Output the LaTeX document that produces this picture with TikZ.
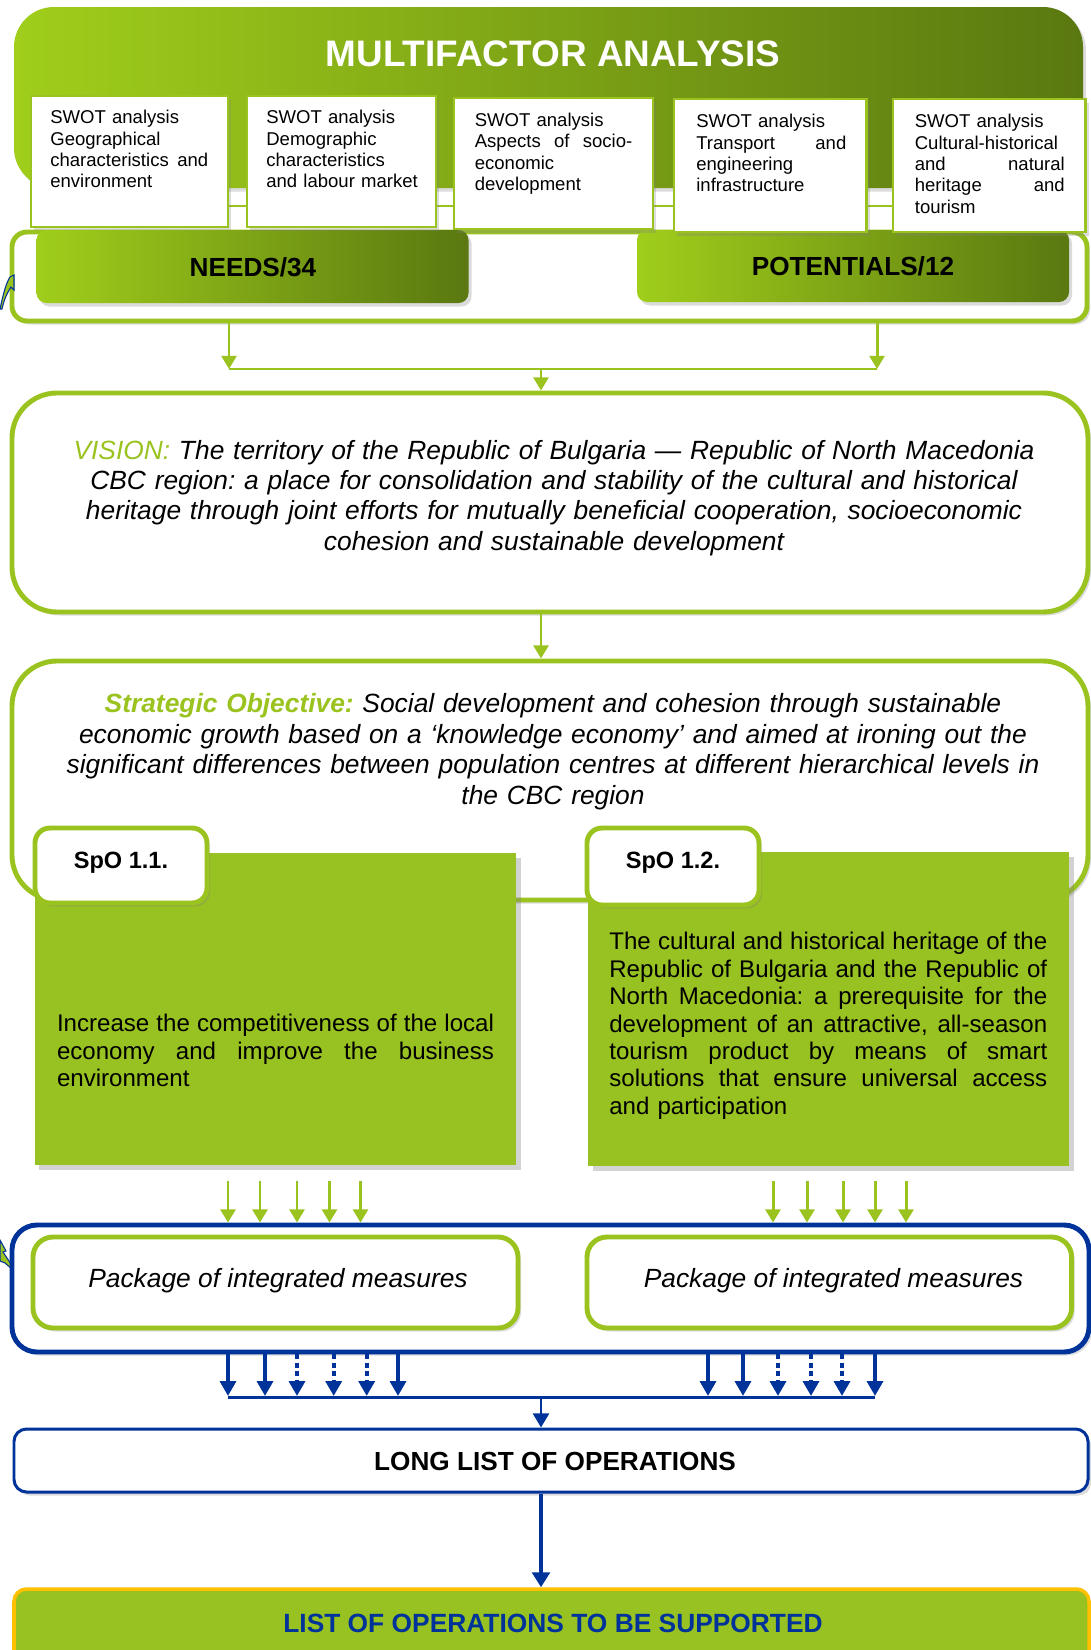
\documentclass[tikz,border=0pt]{standalone}
\usepackage{fontspec}
\setmainfont{Liberation Sans}
\usetikzlibrary{arrows.meta,shadows}
\definecolor{lg}{HTML}{9BC31F}
\definecolor{bodyg}{HTML}{98C122}
\definecolor{gL}{HTML}{A0CE1B}
\definecolor{gD}{HTML}{5A7810}
\definecolor{navy}{HTML}{003399}
\definecolor{gold}{HTML}{FFC000}
\newcommand{\mkbox}[6]{\node[#1, inner sep=0pt, minimum width={(#4-(#2))*0.02cm}, minimum height={(#5-(#3))*0.02cm}] (#6) at ({((#2)+(#4))/2},{((#3)+(#5))/2}) {};}
\newcommand{\jl}[2]{\leavevmode\hbox to #1{\spaceskip=0.278em plus 2em minus 0.1em\relax #2}}
\tikzset{
  shad/.style={drop shadow={opacity=0.28, shadow xshift=0.06cm, shadow yshift=-0.07cm}},
  shadb/.style={drop shadow={opacity=0.35, shadow xshift=0.09cm, shadow yshift=-0.09cm}},
  swot/.style={draw=lg, line width=1.2pt, fill=white, shad},
  gframe/.style={draw=lg, line width=2.8pt, fill=white, shad},
  gradbox/.style={rounded corners=0.2cm, left color=gL, right color=gD, shad},
  garrow/.style={draw=lg, line width=1.7pt, -{Triangle[length=7.5pt, width=8.5pt]}},
  gline/.style={draw=lg, line width=1.7pt},
  barrow/.style={draw=navy, line width=2.2pt, -{Triangle[length=8.5pt, width=9pt]}},
  bdot/.style={barrow, dash pattern=on 2.8pt off 2pt},
  swtxt/.style={anchor=north west, inner sep=0pt, align=left, font=\fontsize{10.55}{12.13}\selectfont},
  bigtxt/.style={anchor=north, inner sep=0pt, text width=20cm, align=center, font=\fontsize{15}{17.3}\selectfont\itshape},
  spotxt/.style={anchor=north west, inner sep=0pt, align=left, font=\fontsize{13.7}{15.6}\selectfont},
  tabtxt/.style={anchor=base, inner sep=0pt, font=\fontsize{13.4}{16}\selectfont\bfseries},
  headtxt/.style={anchor=base, inner sep=0pt, font=\fontsize{14.9}{18}\selectfont\bfseries},
}
\begin{document}
\frenchspacing
\hyphenpenalty=10000
\exhyphenpenalty=10000
\hbadness=10000
\begin{tikzpicture}[x=0.02cm, y=-0.02cm]
\useasboundingbox (0,0) rectangle (1090,1650);

% header
\mkbox{rounded corners=0.8cm, left color=gL, right color=gD, shad}{14}{7}{1083}{188}{header}
\node[anchor=base, inner sep=0pt, text=white, font=\fontsize{21}{25}\selectfont\bfseries] (title) at (553,66.7) {MULTIFACTOR ANALYSIS};

% needs / potentials frame
\mkbox{gframe, rounded corners=0.3cm}{12}{232}{1087}{321}{nframe}
\mkbox{gradbox}{36.5}{230}{468.5}{303}{needs}
\mkbox{gradbox}{637}{230}{1069}{302}{pot}
\node[headtxt] (needst) at (253,276) {NEEDS/34};
\node[headtxt] (pott) at (853,275) {POTENTIALS/12};

% line behind swot boxes
\draw[lg, line width=1.2pt] (228,206) -- (893,206);

% SWOT boxes
\mkbox{swot}{30.6}{95.7}{228}{226.7}{sw1}
\mkbox{swot}{247}{96}{436}{227}{sw2}
\mkbox{swot}{453.6}{98}{653}{229}{sw3}
\mkbox{swot}{674}{99}{866.5}{232}{sw4}
\mkbox{swot}{893}{99}{1085.5}{232}{sw5}
\node[swtxt, text width=3.2cm] (swt1) at (50,110.2) {SWOT analysis\\Geographical\\\jl{3.16cm}{characteristics and}\\environment};
\node[swtxt, text width=3.1cm] (swt2) at (266,110.2) {SWOT analysis\\Demographic\\characteristics\\and labour market};
\node[swtxt, text width=3.2cm] (swt3) at (474.5,112.9) {SWOT analysis\\\jl{3.15cm}{Aspects of socio-}\\economic\\development};
\node[swtxt, text width=3.1cm] (swt4) at (696,114.2) {SWOT analysis\\\jl{3.0cm}{Transport and}\\engineering\\infrastructure};
\node[swtxt, text width=3.1cm] (swt5) at (914.5,114.2) {SWOT analysis\\Cultural-historical\\\jl{3.0cm}{and natural}\\\jl{3.0cm}{heritage and}\\tourism};

% left decorations
\filldraw[fill=lg, draw=navy, line width=0.6pt] (0,309) .. controls (3,295) and (6,283) .. (10,277) -- (14,275) -- (14,290) -- (11,287) .. controls (7,293) and (4,300) .. (2,309) -- cycle;
\filldraw[fill=lg, draw=navy, line width=0.6pt] (0,1240) -- (6,1251) -- (3,1252) -- (11,1264) -- (12,1269) -- (5,1263) -- (0,1261) -- cycle;

% vision
\mkbox{gframe, rounded corners=0.9cm}{12}{393}{1088}{612}{vision}
\node[bigtxt] (visiont) at (554,439.7) {\textcolor{lg}{VISION:} The territory of the Republic of Bulgaria — Republic of North Macedonia\\CBC region: a place for consolidation and stability of the cultural and historical\\heritage through joint efforts for mutually beneficial cooperation, socioeconomic\\cohesion and sustainable development};

% arrows to vision
\coordinate (jl) at (229,369);
\coordinate (jr) at (877,369);
\coordinate (jm) at (541,369);
\draw[garrow] (nframe.south -| jl) -- (jl);
\draw[garrow] (nframe.south -| jr) -- (jr);
\draw[gline] (jl) -- (jr);
\draw[garrow] (jm) -- (vision.north -| jm);

% strategic objective
\mkbox{gframe, rounded corners=0.9cm}{12}{661}{1088}{900}{strat}
\draw[garrow] (vision.south -| jm) -- (strat.north -| jm);
\node[bigtxt] (stratt) at (553,693.4) {\textcolor{lg}{\bfseries Strategic Objective:} Social development and cohesion through sustainable\\economic growth based on a ‘knowledge economy’ and aimed at ironing out the\\significant differences between population centres at different hierarchical levels in\\the CBC region};

% SpO boxes
\mkbox{fill=bodyg, shadb}{35}{853}{516}{1165}{spo1}
\mkbox{fill=bodyg, shadb}{588}{852}{1069}{1166}{spo2}
\mkbox{gframe, rounded corners=0.3cm}{35}{828}{207}{903}{tab1}
\mkbox{gframe, rounded corners=0.3cm}{587}{828}{759}{905}{tab2}
\node[tabtxt] (tab1t) at (121,868) {SpO 1.1.};
\node[tabtxt] (tab2t) at (673,868) {SpO 1.2.};
\node[spotxt, text width=8.9cm] (spo1t) at (56.7,1014) {\jl{8.74cm}{Increase the competitiveness of the local}\\\jl{8.74cm}{economy and improve the business}\\environment};
\node[spotxt, text width=8.9cm] (spo2t) at (609,932) {\jl{8.76cm}{The cultural and historical heritage of the}\\\jl{8.76cm}{Republic of Bulgaria and the Republic of}\\\jl{8.76cm}{North Macedonia: a prerequisite for the}\\\jl{8.76cm}{development of an attractive, all-season}\\\jl{8.76cm}{tourism product by means of smart}\\\jl{8.76cm}{solutions that ensure universal access}\\and participation};

% package frame
\mkbox{draw=navy, line width=2.8pt, fill=white, rounded corners=0.5cm, shad}{12}{1225}{1089}{1352}{pframe}
\mkbox{gframe, rounded corners=0.4cm}{33}{1237}{518}{1328}{pk1}
\mkbox{gframe, rounded corners=0.4cm}{587}{1237}{1071.6}{1328}{pk2}
\node[anchor=base, inner sep=0pt, font=\fontsize{15}{18}\selectfont\itshape] (pk1t) at (278,1287) {Package of integrated measures};
\node[anchor=base, inner sep=0pt, font=\fontsize{15}{18}\selectfont\itshape] (pk2t) at (833.5,1287) {Package of integrated measures};

% green arrows into package frame
\foreach \x [count=\i] in {228,260,297,329.5,360.5,773,807,843,875,906} {
  \coordinate (ga\i) at (\x,1181);
  \draw[garrow] (ga\i) -- (ga\i |- pframe.north);
}

% blue arrows out of package frame
\foreach \x/\s in {228/barrow,265/barrow,297/bdot,333.7/bdot,366.7/bdot,398/barrow,708/barrow,743/barrow,778/bdot,811/bdot,842/bdot,875/barrow} {
  \coordinate (bt) at (\x,1396);
  \draw[\s] (pframe.south -| bt) -- (bt);
}
\coordinate (hb1) at (228,1397);
\coordinate (hb2) at (875,1397);
\coordinate (hm) at (541,1397);
\draw[navy, line width=1.7pt] (hb1) -- (hb2);

% long list
\mkbox{draw=navy, line width=1.7pt, fill=white, rounded corners=0.25cm, shad}{14}{1429}{1088}{1492}{llist}
\node[headtxt] (llistt) at (555,1470) {LONG LIST OF OPERATIONS};
\draw[draw=navy, line width=1.7pt, -{Triangle[length=8pt, width=9pt]}] (hm) -- (llist.north -| hm);

% final box
\mkbox{draw=gold, line width=2pt, fill=bodyg, rounded corners=0.25cm}{14}{1589}{1089}{1668}{final}
\node[anchor=base, inner sep=0pt, text=navy, font=\fontsize{15}{18}\selectfont\bfseries] (finalt) at (553,1632) {LIST OF OPERATIONS TO BE SUPPORTED};
\draw[draw=navy, line width=2.5pt, -{Triangle[length=8.5pt, width=10pt]}] (llist.south -| hm) -- (final.north -| hm);
\end{tikzpicture}
\end{document}
